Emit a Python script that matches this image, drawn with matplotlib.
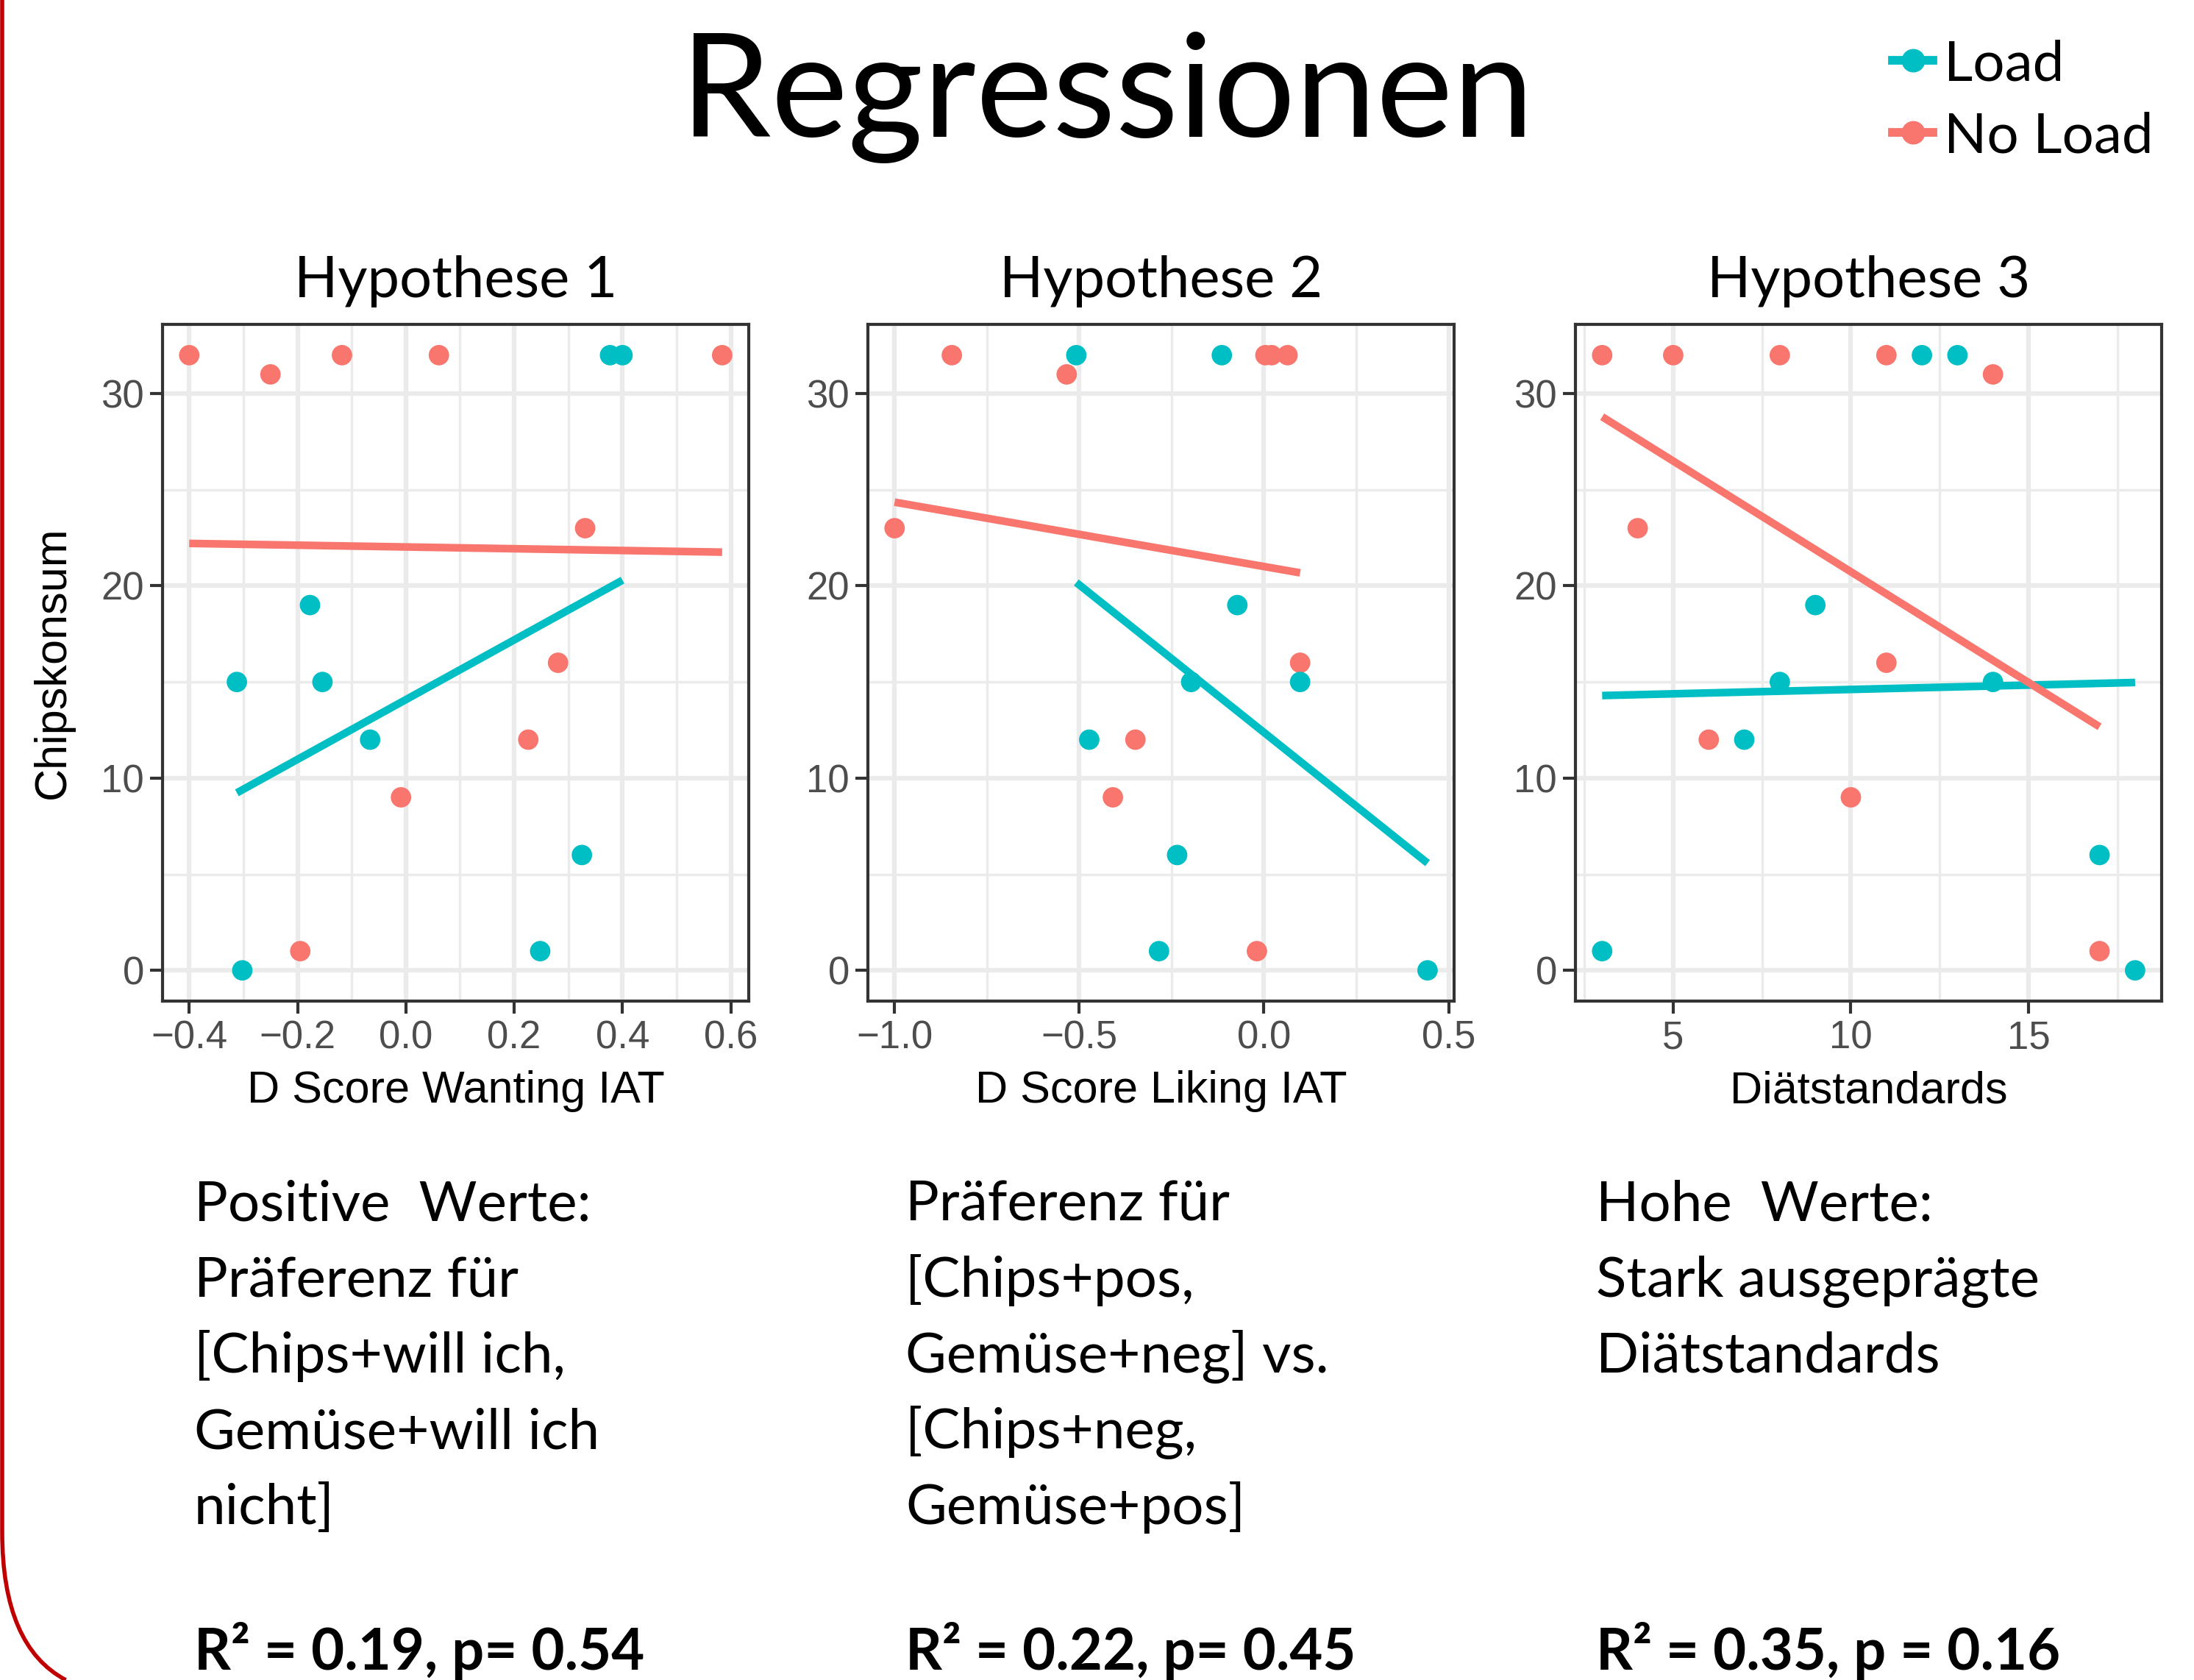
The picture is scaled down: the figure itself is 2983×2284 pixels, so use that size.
import numpy as np
import matplotlib.pyplot as plt
from matplotlib.lines import Line2D
from matplotlib.patches import PathPatch
from matplotlib.path import Path
from matplotlib.ticker import AutoMinorLocator

# Chipskonsum per participant, split by condition (Load / No Load)
h1_load_x = [0.377, 0.40, -0.177, -0.312, -0.154, -0.066, 0.325, 0.248, -0.302]
h1_load_y = [32, 32, 19, 15, 15, 12, 6, 1, 0]
h1_noload_x = [-0.40, -0.25, -0.118, 0.061, 0.584, 0.331, 0.281, 0.226, -0.009, -0.195]
h1_noload_y = [32, 31, 32, 32, 32, 23, 16, 12, 9, 1]

h2_load_x = [-0.508, -0.114, -0.072, -0.197, 0.098, -0.473, -0.235, -0.284, 0.443]
h2_load_y = [32, 32, 19, 15, 15, 12, 6, 1, 0]
h2_noload_x = [-0.845, -0.534, -1.0, 0.004, 0.021, 0.064, 0.098, -0.348, -0.409, -0.019]
h2_noload_y = [32, 31, 23, 32, 32, 32, 16, 12, 9, 1]

h3_load_x = [12, 13, 9, 8, 14, 7, 17, 3, 18]
h3_load_y = [32, 32, 19, 15, 15, 12, 6, 1, 0]
h3_noload_x = [3, 5, 8, 11, 14, 4, 11, 6, 10, 17]
h3_noload_y = [32, 32, 32, 32, 31, 23, 16, 12, 9, 1]

panel_titles = ["Hypothese 1", "Hypothese 2", "Hypothese 3"]
x_labels = ["D Score Wanting IAT", "D Score Liking IAT", "Diätstandards"]
x_ticks = [[-0.4, -0.2, 0.0, 0.2, 0.4, 0.6], [-1.0, -0.5, 0.0, 0.5], [5, 10, 15]]
y_ticks = [0, 10, 20, 30]

notes = [
    ["Positive  Werte:", "Präferenz für", "[Chips+will ich,", "Gemüse+will ich", "nicht]"],
    ["Präferenz für", "[Chips+pos,", "Gemüse+neg] vs.", "[Chips+neg,", "Gemüse+pos]"],
    ["Hohe  Werte:", "Stark ausgeprägte", "Diätstandards"],
]
stats = ["R² = 0.19, p= 0.54", "R² = 0.22, p= 0.45", "R² = 0.35, p = 0.16"]

LOAD = "#00BFC4"
NOLOAD = "#F8766D"
SLIDE_FONT = "Lato"
GG_FONT = "Liberation Sans"


def expand(vals):
    lo, hi = min(vals), max(vals)
    pad = (hi - lo) * 0.05
    return lo - pad, hi + pad


def fit_line(ax, x, y, color):
    slope, icpt = np.polyfit(x, y, 1)
    xs = np.array([min(x), max(x)])
    ax.plot(xs, slope * xs + icpt, color=color, lw=7.5, solid_capstyle="butt", zorder=4)


fig = plt.figure(figsize=(29.83, 22.84), dpi=100)

panels = [
    (h1_load_x, h1_load_y, h1_noload_x, h1_noload_y),
    (h2_load_x, h2_load_y, h2_noload_x, h2_noload_y),
    (h3_load_x, h3_load_y, h3_noload_x, h3_noload_y),
]
lefts = [0.0741, 0.3956, 0.7181]

for i, (lx, ly, nx, ny) in enumerate(panels):
    ax = fig.add_axes([lefts[i], 0.4041, 0.2672, 0.4028])
    ax.scatter(nx, ny, s=400, color=NOLOAD, edgecolors="none", zorder=3)
    ax.scatter(lx, ly, s=400, color=LOAD, edgecolors="none", zorder=3)
    fit_line(ax, lx, ly, LOAD)
    fit_line(ax, nx, ny, NOLOAD)

    ax.set_xlim(expand(lx + nx))
    ax.set_ylim(expand(ly + ny))
    ax.set_xticks(x_ticks[i])
    ax.set_yticks(y_ticks)
    ax.xaxis.set_minor_locator(AutoMinorLocator(2))
    ax.yaxis.set_minor_locator(AutoMinorLocator(2))
    ax.grid(which="major", color="#EBEBEB", lw=4.5)
    ax.grid(which="minor", color="#EBEBEB", lw=2.5)
    ax.set_axisbelow(True)
    for sp in ax.spines.values():
        sp.set_color("#333333")
        sp.set_linewidth(3)
    ax.tick_params(which="major", length=12, width=3, color="#333333",
                   labelsize=38, labelcolor="#4D4D4D", pad=6)
    ax.tick_params(which="minor", length=0)
    for lab in ax.get_xticklabels() + ax.get_yticklabels():
        lab.set_fontfamily(GG_FONT)

    ax.set_title(panel_titles[i], fontsize=56, family=SLIDE_FONT, pad=27)
    ax.set_xlabel(x_labels[i], fontsize=44, family=GG_FONT, labelpad=14)
    if i == 0:
        ax.set_ylabel("Chipskonsum", fontsize=44, family=GG_FONT, labelpad=26)

# notes under each panel
note_x = [264 / 2983, 1231 / 2983, 2170 / 2983]
for i in range(3):
    for j, line in enumerate(notes[i]):
        fig.text(note_x[i], 1 - (1660 + 103 * j) / 2284, line, fontsize=55,
                 family=SLIDE_FONT, va="baseline", ha="left")
    fig.text(note_x[i], 1 - 2270 / 2284, stats[i], fontsize=56,
             family=SLIDE_FONT, weight="bold", va="baseline", ha="left")

fig.text(0.5045, 1 - 186 / 2284, "Regressionen", fontsize=142,
         family=SLIDE_FONT, ha="center", va="baseline")

handles = [
    Line2D([], [], color=LOAD, lw=8.5, marker="o", markersize=22),
    Line2D([], [], color=NOLOAD, lw=8.5, marker="o", markersize=22),
]
fig.legend(handles, ["Load", "No Load"], loc="upper left",
           bbox_to_anchor=(2573 / 2983, 1 - 53 / 2284), frameon=False,
           prop={"family": SLIDE_FONT, "size": 55}, handlelength=0.72,
           handletextpad=0.2, labelspacing=0.38, borderpad=0, borderaxespad=0)

# slide border on the left
verts = [(0.001, 1.0), (0.001, 0.088), (0.001, 0.02), (0.03, 0.0)]
codes = [Path.MOVETO, Path.LINETO, Path.CURVE3, Path.CURVE3]
fig.patches.append(PathPatch(Path(verts, codes), transform=fig.transFigure,
                             fill=False, edgecolor="#C00000", lw=4))

fig.savefig("out.png", dpi=100)
